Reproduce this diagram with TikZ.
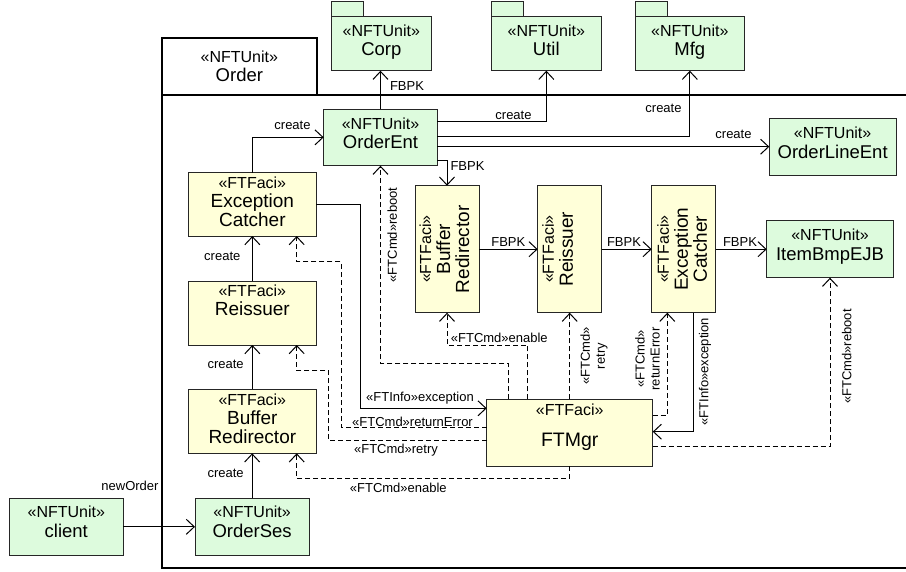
\documentclass[tikz,border=0pt]{standalone}
\usepackage{fontspec}
\setmainfont{Liberation Sans}
\usetikzlibrary{arrows.meta}
\definecolor{unitgreen}{RGB}{221,251,221}
\definecolor{faciyellow}{RGB}{255,255,217}
\newcommand\stereotxt[1]{{\fontsize{16}{19.5}\selectfont #1}}

\begin{document}
\begin{tikzpicture}[x=1pt,y=-1pt,
  every node/.style={inner sep=0pt, outer sep=0pt},
  ubox/.style={draw=black!85, line width=1pt, fill=unitgreen},
  fbox/.style={draw=black!85, line width=1pt, fill=faciyellow},
  frameline/.style={draw=black, line width=2pt},
  utext/.style={align=center, font=\fontsize{18.5}{19.5}\selectfont},
  ftext/.style={align=center, font=\fontsize{19}{19}\selectfont},
  conn/.style={line width=1pt, -{Straight Barb[length=8pt,width=15pt]}},
  dconn/.style={conn, dash pattern=on 5pt off 3pt},
  lbl/.style={font=\fontsize{13}{15}\selectfont, text height=9.3pt, text depth=0pt},
  rlbl/.style={font=\fontsize{13}{15}\selectfont, align=center, rotate=90},
]
\fill[white] (0,0) rectangle (906,571);
\clip (0,0) rectangle (906,571);

% enclosing package Order
\draw[frameline] (930,95) -- (162,95) -- (162,567.7) -- (930,567.7);
\node[frameline, fill=white, minimum width=154.7, minimum height=57] (orderTab) at (239.35,66.5) {};
\node[utext, anchor=north] (orderTxt) at (239.35,50.9) {\stereotxt{«NFTUnit»}\\Order};

% imported packages
\node[ubox, minimum width=32, minimum height=14.3] (corpTab) at (347,8.85) {};
\node[ubox, minimum width=100.7, minimum height=54.7] (corp) at (381.35,43.35) {};
\node[utext, anchor=north] (corpTxt) at (381.35,24.7) {\stereotxt{«NFTUnit»}\\Corp};

\node[ubox, minimum width=32, minimum height=14.3] (utilTab) at (507.35,8.85) {};
\node[ubox, minimum width=109.3, minimum height=54.7] (util) at (546.35,43.35) {};
\node[utext, anchor=north] (utilTxt) at (546.35,24.7) {\stereotxt{«NFTUnit»}\\Util};

\node[ubox, minimum width=32, minimum height=14.3] (mfgTab) at (651.7,8.85) {};
\node[ubox, minimum width=108.3, minimum height=54.7] (mfg) at (689.85,43.35) {};
\node[utext, anchor=north] (mfgTxt) at (689.85,24.7) {\stereotxt{«NFTUnit»}\\Mfg};

% units
\node[ubox, minimum width=113.6, minimum height=56.7] (orderEnt) at (380.5,137.35) {};
\node[utext, anchor=north] (orderEntTxt) at (380.5,117.7) {\stereotxt{«NFTUnit»}\\OrderEnt};

\node[ubox, minimum width=126.7, minimum height=57.4] (orderLineEnt) at (832.65,147) {};
\node[utext, anchor=north] (orderLineEntTxt) at (832.65,127) {\stereotxt{«NFTUnit»}\\OrderLineEnt};

\node[ubox, minimum width=126.6, minimum height=57] (item) at (830,249.2) {};
\node[utext, anchor=north] (itemTxt) at (830,229.4) {\stereotxt{«NFTUnit»}\\ItemBmpEJB};

\node[ubox, minimum width=114, minimum height=57] (client) at (66.3,526.8) {};
\node[utext, anchor=north] (clientTxt) at (66.3,505.9) {\stereotxt{«NFTUnit»}\\client};

\node[ubox, minimum width=114.3, minimum height=57] (orderSes) at (252.15,526.8) {};
\node[utext, anchor=north] (orderSesTxt) at (252.15,505.9) {\stereotxt{«NFTUnit»}\\OrderSes};

% fault tolerance facilities, left column
\node[fbox, minimum width=127.3, minimum height=63.3] (ecL) at (252.35,204.35) {};
\node[ftext, anchor=north] (ecLTxt) at (252.35,177.2) {\stereotxt{«FTFaci»}\\Exception\\Catcher};

\node[fbox, minimum width=127.3, minimum height=64] (reL) at (252.35,313) {};
\node[ftext, anchor=north] (reLTxt) at (252.35,285) {\stereotxt{«FTFaci»}\\Reissuer};

\node[fbox, minimum width=127.3, minimum height=64] (brL) at (252.35,421.3) {};
\node[ftext, anchor=north] (brLTxt) at (252.35,394.2) {\stereotxt{«FTFaci»}\\Buffer\\Redirector};

% fault tolerance facilities, middle row (rotated)
\node[fbox, minimum width=64, minimum height=127] (brM) at (447,249.2) {};
\node[ftext, rotate=90, anchor=north] (brMTxt) at (419.5,249.2) {\stereotxt{«FTFaci»}\\Buffer\\Redirector};

\node[fbox, minimum width=64, minimum height=127] (reM) at (569.7,249.2) {};
\node[ftext, rotate=90, anchor=north] (reMTxt) at (542.2,249.2) {\stereotxt{«FTFaci»}\\Reissuer};

\node[fbox, minimum width=64, minimum height=127] (ecM) at (683.7,249.2) {};
\node[ftext, rotate=90, anchor=north] (ecMTxt) at (657.2,249.2) {\stereotxt{«FTFaci»}\\Exception\\Catcher};

% manager
\node[fbox, minimum width=166, minimum height=66.7] (ftmgr) at (569.7,432.65) {};
\node[ftext, anchor=north, font=\fontsize{19.5}{19.5}\selectfont] (ftmgrTxt) at (569.7,404.2) {\stereotxt{«FTFaci»}\\[11pt]FTMgr};

% connectors from OrderEnt
\draw[conn] (orderEnt.north) -- (orderEnt.north |- corp.south);
\node[lbl] (lFbpkCorp) at (407,86) {FBPK};
\draw[conn] (orderEnt.east |- 0,121) -| (util.south);
\node[lbl] (lCrUtil) at (513.5,115) {create};
\draw[conn] (orderEnt.east |- 0,136.7) -| (mfg.south);
\node[lbl] (lCrMfg) at (663.5,108.3) {create};
\draw[conn] (orderEnt.east |- 0,146.7) -- (orderLineEnt.west |- 0,146.7);
\node[lbl] (lCrOle) at (733.5,134.3) {create};
\draw[conn] (orderEnt.east |- 0,160) -| (brM.north);
\node[lbl] (lFbpkBr) at (467.5,166) {FBPK};

% creation chain
\draw[conn] (ecL.north) |- (orderEnt.west);
\node[lbl] (lCrOe) at (292.5,125) {create};
\draw[conn] (reL.north) -- (ecL.south);
\node[lbl] (lCrEc) at (222.3,255.7) {create};
\draw[conn] (brL.north) -- (reL.south);
\node[lbl] (lCrRe) at (225.6,364.3) {create};
\draw[conn] (orderSes.north) -- (orderSes.north |- brL.south);
\node[lbl] (lCrBr) at (225.6,472.7) {create};
\draw[conn] (client.east) -- (orderSes.west);
\node[lbl] (lNewOrder) at (130,485.7) {newOrder};

% FBPK chain
\draw[conn] (brM.east) -- (reM.west);
\node[lbl] (lFbpk1) at (508.3,241.7) {FBPK};
\draw[conn] (reM.east) -- (ecM.west);
\node[lbl] (lFbpk2) at (624,241.5) {FBPK};
\draw[conn] (ecM.east) -- (item.west);
\node[lbl] (lFbpk3) at (740,241.5) {FBPK};

% manager links, left side
\coordinate (exTurn) at (360.7,408.3);
\draw[conn] (ecL.east) -| (exTurn) -- (ftmgr.west |- exTurn);
\node[lbl] (lExL) at (420,396.7) {«FTInfo»exception};
\draw[dconn] (ftmgr.west |- 0,427.3) -| (341,261.7) -| (ecL.south -| 296.7,0);
\node[lbl] (lReErrL) at (412.5,422.3) {«FTCmd»returnError};
\draw[dconn] (ftmgr.west |- 0,440.7) -| (328.3,370) -| (reL.south -| 296.7,0);
\node[lbl] (lRetryL) at (396,449) {«FTCmd»retry};
\draw[dconn] (ftmgr.south) |- (296.7,478.3) -- (brL.south -| 296.7,0);
\node[lbl] (lEnableL) at (398.3,488.3) {«FTCmd»enable};

% manager links, upward and right
\draw[dconn] (ftmgr.north -| 508.3,0) |- (orderEnt.south |- 0,363.3) -- (orderEnt.south);
\node[rlbl] (lRebootOe) at (392.3,235) {«FTCmd»reboot};
\draw[dconn] (ftmgr.north -| 527.3,0) |- (brM.south |- 0,345) -- (brM.south);
\node[lbl] (lEnableM) at (499.3,338.3) {«FTCmd»enable};
\draw[dconn] (ftmgr.north) -- (reM.south);
\node[rlbl] (lRetryM) at (594,356) {«FTCmd»\\retry};
\draw[dconn] (ftmgr.east |- 0,415) -| (ecM.south -| 667.3,0);
\node[rlbl] (lReErrM) at (647.5,359) {«FTCmd»\\returnError};
\draw[conn] (ecM.south -| 693.3,0) |- (ftmgr.east |- 0,431.7);
\node[rlbl] (lExM) at (705,371.7) {«FTInfo»exception};
\draw[dconn] (ftmgr.east |- 0,446.7) -| (item.south);
\node[rlbl] (lRebootItem) at (846.7,356.5) {«FTCmd»reboot};
\end{tikzpicture}
\end{document}
